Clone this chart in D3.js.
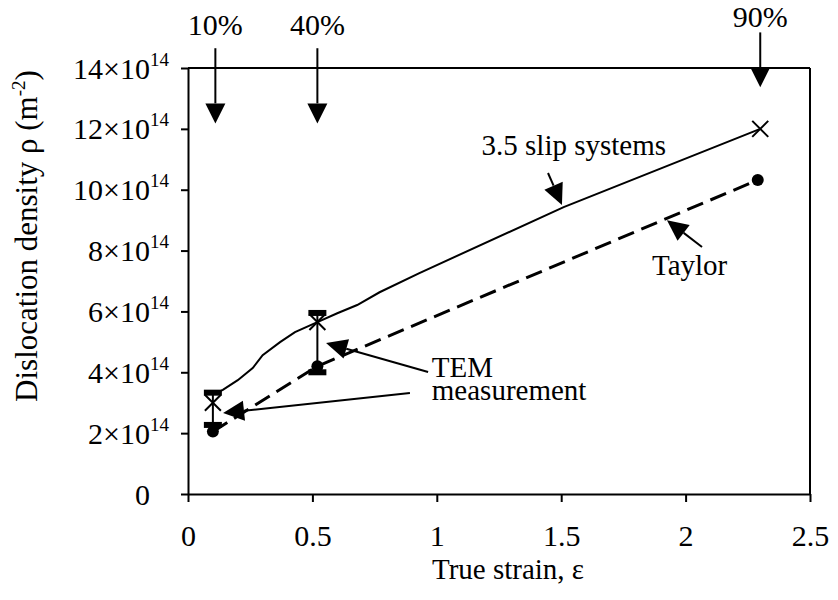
<!DOCTYPE html>
<html>
<head>
<meta charset="utf-8">
<script src="https://cdnjs.cloudflare.com/ajax/libs/d3/7.8.5/d3.min.js"></script>
<style>
  body { margin: 0; background: #fff; }
  text { font-family: "Liberation Serif", "Times New Roman", serif; fill: #000; }
  .axis path, .axis line { stroke: #000; stroke-width: 2px; }
</style>
</head>
<body>
<script>
// data, density in units of 10^14 m^-2
var xTicks = [0, 0.5, 1, 1.5, 2, 2.5];
var yTicks = [0, 2, 4, 6, 8, 10, 12, 14];

// 3.5 slip systems model curve
var slipLine = [[0.11, 3.3], [0.14, 3.42], [0.20, 3.74], [0.26, 4.14], [0.30, 4.56],
  [0.37, 4.99], [0.43, 5.32], [0.52, 5.65], [0.60, 5.94], [0.68, 6.21],
  [0.77, 6.63], [0.93, 7.26], [1.51, 9.43], [2.30, 12.0]];
var slipPoints = [[0.10, 3.0], [0.52, 5.65], [2.30, 12.0]];

// Taylor model
var taylorPoints = [[0.10, 2.05], [0.52, 4.2], [2.29, 10.32]];

// TEM measurement ranges [strain, low, high]
var temBars = [[0.10, 2.27, 3.33], [0.52, 4.0, 5.95]];

// strain marks on top
var pctLabels = ["10%", "40%", "90%"];
var pctX = [0.11, 0.52, 2.30];
var pctTop = [14.65, 14.65, 15.17];
var pctTip = [12.18, 12.18, 13.37];
var pctText = [15.07, 15.07, 15.34];

// annotation arrows [x0, y0, x1(tip), y1(tip)]
var noteArrows = [
  [1.447, 10.55, 1.503, 9.50],
  [2.066, 8.12, 1.925, 9.00],
  [0.965, 4.01, 0.555, 4.96],
  [0.892, 3.32, 0.141, 2.66]
];
var noteTexts = [
  ["3.5 slip systems", 1.18, 11.14],
  ["Taylor", 1.865, 7.20],
  ["TEM", 0.98, 3.84],
  ["measurement", 0.98, 3.09]
];

var width = 838, height = 600;
var mLeft = 188, mRight = 810, mTop = 68, mBottom = 494;

var svg = d3.select("body").append("svg")
    .attr("width", width)
    .attr("height", height);

var x = d3.scaleLinear().domain([0, 2.5]).range([mLeft, mRight]);
var y = d3.scaleLinear().domain([0, 14]).range([mBottom, mTop]);

// frame
svg.append("line").attr("x1", mLeft).attr("x2", mRight).attr("y1", mTop).attr("y2", mTop)
    .attr("stroke", "#000").attr("stroke-width", 2);
svg.append("line").attr("x1", mRight).attr("x2", mRight).attr("y1", mTop).attr("y2", mBottom)
    .attr("stroke", "#000").attr("stroke-width", 2);

// axes
var gx = svg.append("g")
    .attr("class", "axis")
    .attr("transform", "translate(0," + mBottom + ")")
    .call(d3.axisBottom(x).tickValues(xTicks).tickSize(8).tickSizeOuter(0).tickFormat(d3.format("")));
gx.selectAll("text")
    .attr("y", 0).attr("dy", null)
    .attr("transform", "translate(0,52)")
    .style("font-size", "30px");

var gy = svg.append("g")
    .attr("class", "axis")
    .attr("transform", "translate(" + mLeft + ",0)")
    .call(d3.axisLeft(y).tickValues(yTicks).tickSize(7).tickSizeOuter(0).tickFormat(""));
gy.selectAll(".tick").each(function(d) {
  var t = d3.select(this);
  t.append("text")
    .attr("x", -38).attr("y", 10)
    .attr("text-anchor", "end")
    .style("font-size", "30px")
    .text(d === 0 ? "0" : d + "\u00d710");
  if (d !== 0) {
    t.append("text")
      .attr("x", -38).attr("y", -3)
      .attr("text-anchor", "start")
      .style("font-size", "19px")
      .text("14");
  }
});

// axis titles
svg.append("text")
    .attr("x", 508).attr("y", 579)
    .attr("text-anchor", "middle")
    .style("font-size", "29px")
    .text("True strain, \u03b5");

var yt = svg.append("text")
    .attr("transform", "translate(37,236) rotate(-90)")
    .attr("text-anchor", "middle")
    .style("font-size", "31px");
yt.append("tspan").text("Dislocation density \u03c1 (m");
yt.append("tspan").attr("dy", -12).style("font-size", "19px").text("-2");
yt.append("tspan").attr("dy", 12).text(")");

// lines
var line = d3.line().x(function(d) { return x(d[0]); }).y(function(d) { return y(d[1]); });

svg.append("path").datum(slipLine)
    .attr("d", line).attr("fill", "none")
    .attr("stroke", "#000").attr("stroke-width", 2);

svg.append("path").datum(taylorPoints)
    .attr("d", line).attr("fill", "none")
    .attr("stroke", "#000").attr("stroke-width", 3)
    .attr("stroke-dasharray", "17,8");

// error bars
var eb = svg.selectAll(".eb").data(temBars).enter().append("g");
eb.append("line")
    .attr("x1", function(d) { return x(d[0]); }).attr("x2", function(d) { return x(d[0]); })
    .attr("y1", function(d) { return y(d[1]); }).attr("y2", function(d) { return y(d[2]); })
    .attr("stroke", "#000").attr("stroke-width", 2);
eb.append("rect")
    .attr("x", function(d) { return x(d[0]) - 9; }).attr("y", function(d) { return y(d[2]) - 3; })
    .attr("width", 18).attr("height", 6).attr("fill", "#000");
eb.append("rect")
    .attr("x", function(d) { return x(d[0]) - 9; }).attr("y", function(d) { return y(d[1]) - 3; })
    .attr("width", 18).attr("height", 6).attr("fill", "#000");

// markers
svg.selectAll(".xm").data(slipPoints).enter().append("path")
    .attr("d", function(d) {
      var cx = x(d[0]), cy = y(d[1]), s = 8;
      return "M" + (cx - s) + "," + (cy - s) + "L" + (cx + s) + "," + (cy + s) +
             "M" + (cx - s) + "," + (cy + s) + "L" + (cx + s) + "," + (cy - s);
    })
    .attr("stroke", "#000").attr("stroke-width", 2);

svg.selectAll(".dot").data(taylorPoints).enter().append("circle")
    .attr("cx", function(d) { return x(d[0]); })
    .attr("cy", function(d) { return y(d[1]); })
    .attr("r", 6).attr("fill", "#000");

// arrow helper
function arrow(x0, y0, x1, y1, len, half, w) {
  var dx = x1 - x0, dy = y1 - y0, l = Math.sqrt(dx * dx + dy * dy);
  var ux = dx / l, uy = dy / l;
  var bx = x1 - ux * len, by = y1 - uy * len;
  svg.append("line")
      .attr("x1", x0).attr("y1", y0).attr("x2", bx).attr("y2", by)
      .attr("stroke", "#000").attr("stroke-width", w);
  svg.append("polygon")
      .attr("points", [[x1, y1], [bx - uy * half, by + ux * half], [bx + uy * half, by - ux * half]].join(" "))
      .attr("fill", "#000");
}

// percentage marks
pctLabels.forEach(function(lab, i) {
  arrow(x(pctX[i]), y(pctTop[i]), x(pctX[i]), y(pctTip[i]), 20, 10, 2);
  svg.append("text")
      .attr("x", x(pctX[i])).attr("y", y(pctText[i]))
      .attr("text-anchor", "middle")
      .style("font-size", "30px")
      .text(lab);
});

noteArrows.forEach(function(a) {
  arrow(x(a[0]), y(a[1]), x(a[2]), y(a[3]), 21, 10, 2);
});

noteTexts.forEach(function(t) {
  svg.append("text")
      .attr("x", x(t[1])).attr("y", y(t[2]))
      .style("font-size", "29px")
      .text(t[0]);
});
</script>
</body>
</html>
